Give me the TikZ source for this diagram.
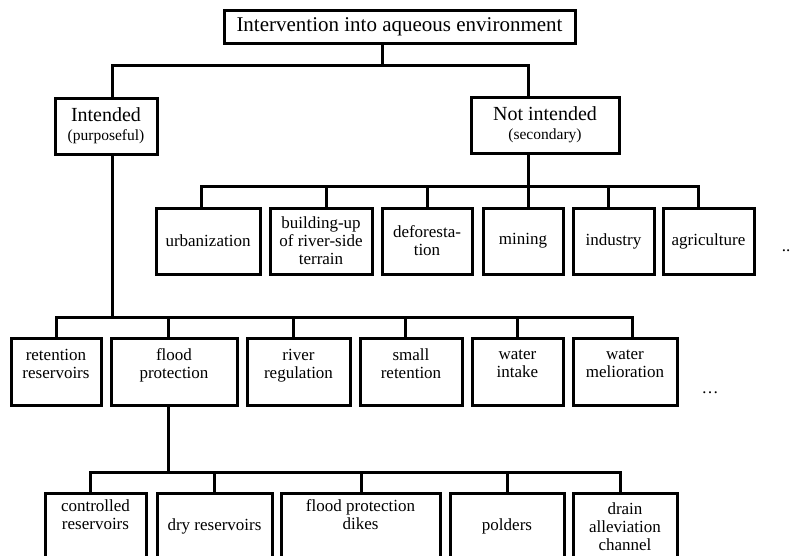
\documentclass[tikz,border=0pt]{standalone}
\usepackage{fontspec}
\setmainfont{Liberation Serif}

\tikzset{
  box/.style={draw,line width=3pt,inner sep=0pt,align=center,
              font=\fontsize{17}{18}\selectfont},
  head/.style={box,font=\fontsize{20}{19}\selectfont},
  link/.style={line width=3pt}
}
\newcommand{\subtxt}[1]{{\fontsize{15.5}{16}\selectfont #1}}
\newcommand{\lowpad}{\\[-8pt]\strut}

\begin{document}
\begin{tikzpicture}[x=1pt,y=-1pt]
\useasboundingbox (0,0) rectangle (793,555);
 % top and first level
 \node[head,font=\fontsize{21}{21}\selectfont,minimum width=351,minimum height=33] (top) at (399.5,26.5) {Intervention into aqueous environment};
 \node[head,minimum width=102,minimum height=56] (intd)   at (106,126) {Intended\\\subtxt{(purposeful)}};
 \node[head,minimum width=148,minimum height=56] (notint) at (545,125) {Not intended\\\subtxt{(secondary)}};
 % not intended
 \node[box,minimum width=104,minimum height=66] (urb)  at (208,241)   {urbanization};
 \node[box,minimum width=102,minimum height=66] (bld)  at (321,241)   {building-up\\of river-side\\terrain};
 \node[box,minimum width=90,minimum height=66]  (defo) at (427,241)   {deforesta-\\tion};
 \node[box,minimum width=80,minimum height=66]  (mine) at (523,241)   {mining};
 \node[box,minimum width=81,minimum height=66]  (ind)  at (613.5,241) {industry};
 \node[box,minimum width=91,minimum height=66]  (agr)  at (708.5,241) {agriculture};
 \node[anchor=base,font=\fontsize{17}{18}\selectfont] (more1) at (786,251) {..};
 % intended
 \node[box,minimum width=90,minimum height=67]  (ret)    at (56,371.5)    {retention\\reservoirs\lowpad};
 \node[box,minimum width=126,minimum height=67] (flood)  at (174,371.5)   {flood\\protection\lowpad};
 \node[box,minimum width=103,minimum height=67] (river)  at (298.5,371.5) {river\\regulation\lowpad};
 \node[box,minimum width=102,minimum height=67] (small)  at (411,371.5)   {small\\retention\lowpad};
 \node[box,minimum width=91,minimum height=67]  (intake) at (517.5,371.5) {water\\intake\lowpad};
 \node[box,minimum width=104,minimum height=67] (melio)  at (625,371.5)   {water\\melioration\lowpad};
 \node[anchor=base,font=\fontsize{17}{18}\selectfont] (more2) at (710,393) {\dots};
 % flood protection
 \node[box,minimum width=101,minimum height=67] (ctrl)  at (95.5,526.5)  {controlled\\reservoirs\\\strut};
 \node[box,minimum width=115,minimum height=67] (dry)   at (214.5,526.5) {\strut\\dry reservoirs\\\strut};
 \node[box,minimum width=159,minimum height=67] (dikes) at (360.5,526.5) {flood protection\\dikes\\\strut};
 \node[box,minimum width=114,minimum height=67] (pold)  at (507,526.5)   {\strut\\polders\\\strut};
 \node[box,minimum width=104,minimum height=67] (drain) at (625,526.5)   {drain\\alleviation\\channel};

 % branch points
 \coordinate (b0) at (382,65);
 \coordinate (b1) at (528,186);
 \coordinate (b2) at (112,317);
 \coordinate (b3) at (168,472);

 \draw[link] (top.south -| b0) -- (b0);
 \draw[link] ([xshift=6pt]intd.north) |- (b0) -| ([xshift=-17pt]notint.north);
 \draw[link] ([xshift=-17pt]notint.south) -- (b1);
 \draw[link] ([xshift=6pt]intd.south) -- (b2);
 \draw[link] ([xshift=-6pt]flood.south) -- (b3);
 \foreach \n/\dx in {urb/-7,bld/5,defo/0,mine/5,ind/-5.5,agr/-10.5}
   \draw[link] ([xshift=\dx pt]\n.north) |- (b1);
 \foreach \n/\dx in {ret/0,flood/-6,river/-5.5,small/-6,intake/-0.5,melio/7}
   \draw[link] ([xshift=\dx pt]\n.north) |- (b2);
 \foreach \n/\dx in {ctrl/-5.5,dry/-0.5,dikes/0.5,pold/0,drain/-5}
   \draw[link] ([xshift=\dx pt]\n.north) |- (b3);
\end{tikzpicture}
\end{document}
